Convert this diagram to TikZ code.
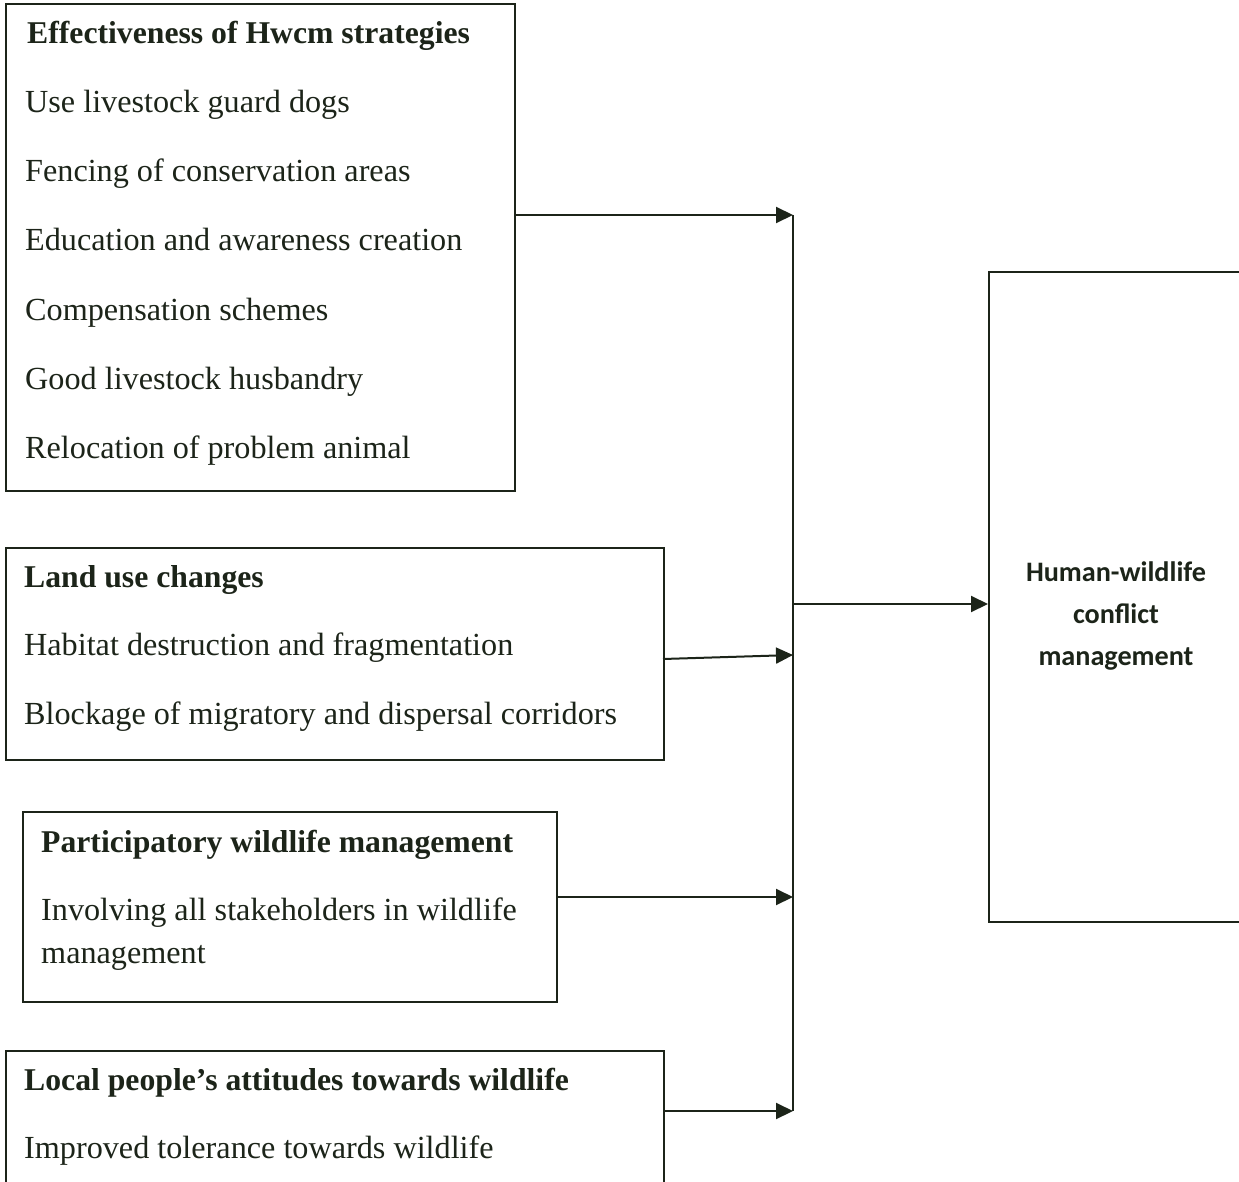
\documentclass[tikz,border=0pt]{standalone}
\usepackage{fontspec}
\setmainfont{Liberation Serif}
\newfontfamily\carlitofont{Carlito}
\usetikzlibrary{arrows.meta}
\definecolor{ink}{HTML}{1C2419}
\begin{document}
\begin{tikzpicture}[x=1pt,y=-1pt,
  frame/.style={draw=ink,line width=2pt,inner sep=0pt,anchor=north west},
  txt/.style={anchor=base west,inner sep=0pt,text=ink,font=\fontsize{32.2}{40}\selectfont},
  ttl/.style={txt,font=\fontsize{31.7}{40}\selectfont\bfseries},
  rtxt/.style={anchor=base,inner sep=0pt,text=ink,font=\carlitofont\bfseries\fontsize{28.2}{40}\selectfont},
  arr/.style={draw=ink,line width=2pt,-{Triangle[length=17pt,width=16pt]}},
  bus/.style={draw=ink,line width=2pt}]
\useasboundingbox (0,0) rectangle (1239,1182);
\clip (0,0) rectangle (1239,1182);
\fill[white] (0,0) rectangle (1239,1182);
% boxes
\node[frame,minimum width=509pt,minimum height=487pt] (b1) at (5,3) {};
\node[frame,minimum width=658pt,minimum height=212pt] (b2) at (5,547) {};
\node[frame,minimum width=534pt,minimum height=190pt] (b3) at (22,811) {};
\node[frame,minimum width=658pt,minimum height=160pt] (b4) at (5,1050) {};
\node[frame,minimum width=300pt,minimum height=650pt] (r) at (988,271) {};
% box 1 text
\node[ttl] (t1) at (27,44) {Effectiveness of Hwcm strategies};
\node[txt] (t1a) at (25,113) {Use livestock guard dogs};
\node[txt] (t1b) at (25,182) {Fencing of conservation areas};
\node[txt] (t1c) at (25,251) {Education and awareness creation};
\node[txt] (t1d) at (25,320) {Compensation schemes};
\node[txt] (t1e) at (25,389) {Good livestock husbandry};
\node[txt] (t1f) at (25,458) {Relocation of problem animal};
% box 2 text
\node[ttl] (t2) at (24,587) {Land use changes};
\node[txt] (t2a) at (24,655) {Habitat destruction and fragmentation};
\node[txt] (t2b) at (24,724) {Blockage of migratory and dispersal corridors};
% box 3 text
\node[ttl] (t3) at (41,852) {Participatory wildlife management};
\node[txt] (t3a) at (41,920) {Involving all stakeholders in wildlife};
\node[txt] (t3b) at (41,963) {management};
% box 4 text
\node[ttl] (t4) at (24,1090) {Local people’s attitudes towards wildlife};
\node[txt] (t4a) at (24,1158) {Improved tolerance towards wildlife};
% right box text
\node[rtxt] (r1) at (1116,581) {Human-wildlife};
\node[rtxt] (r2) at (1116,623) {conflict};
\node[rtxt] (r3) at (1116,665) {management};
% bus coordinates
\coordinate (j1) at (793,215);
\coordinate (s2) at (663,659);
\coordinate (j2) at (793,655);
\coordinate (j3) at (793,897);
\coordinate (j4) at (793,1111);
\coordinate (jm) at (793,604);
% connectors
\draw[bus] (j1) -- (j4);
\draw[arr] (b1.east |- j1) -- (j1);
\draw[arr] (s2) -- (j2);
\draw[arr] (b3.east |- j3) -- (j3);
\draw[arr] (b4.east |- j4) -- (j4);
\draw[arr] (jm) -- (r.west |- jm);
\end{tikzpicture}
\end{document}
